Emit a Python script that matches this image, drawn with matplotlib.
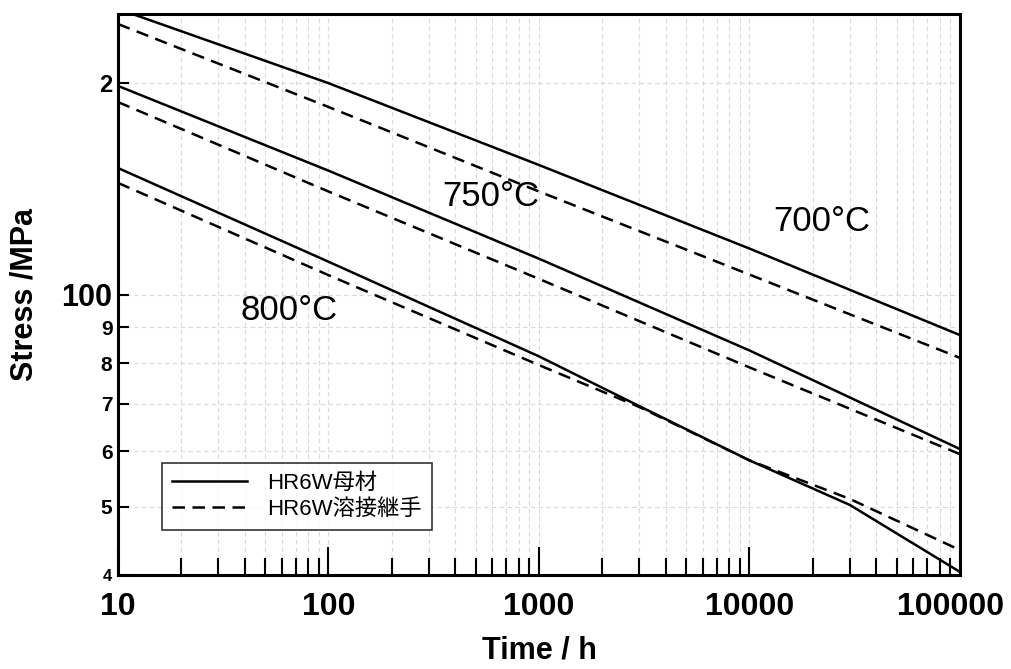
import matplotlib
matplotlib.use("Agg")
import matplotlib.pyplot as plt
from matplotlib.ticker import FixedLocator, NullFormatter
from matplotlib.transforms import ScaledTranslation

# Creep rupture strength of HR6W: base metal vs. welded joint
t_700 = [10, 100, 1000, 10000, 100000]
base_700 = [255.0, 200.0, 153.0, 116.4, 87.7]
weld_700 = [242.7, 185.0, 140.3, 106.9, 81.4]

t_750 = [10, 100, 1000, 10000, 100000]
base_750 = [198.2, 150.2, 112.6, 83.4, 60.4]
weld_750 = [188.0, 140.3, 105.4, 78.9, 59.4]

t_800 = [10, 100, 1000, 3000, 10000, 30000, 100000]
base_800 = [151.5, 111.5, 81.8, 69.5, 58.2, 50.3, 40.4]
weld_800 = [144.3, 106.7, 79.5, 69.3, 58.2, 51.3, 43.4]

temp_labels = ["700°C", "750°C", "800°C"]
temp_label_pos = [(22100, 127.0), (591, 137.8), (64.9, 95.2)]

legend_labels = ["HR6W母材", "HR6W溶接継手"]

x_major = [10, 100, 1000, 10000, 100000]
x_major_labels = ["10", "100", "1000", "10000", "100000"]
x_minor = [m * d for d in (10, 100, 1000, 10000) for m in range(2, 10)]

y_ticks = [40, 50, 60, 70, 80, 90, 100, 200]
y_tick_labels = ["4", "5", "6", "7", "8", "9", "100", "2"]
y_tick_sizes = [12, 15, 15, 15, 15, 15, 22, 17]

latin_cjk = ["Liberation Sans", "Noto Sans CJK JP", "DejaVu Sans"]
plt.rcParams["font.family"] = latin_cjk

fig = plt.figure(figsize=(10.12, 6.69), dpi=100)
ax = fig.add_axes([0.1166, 0.1405, 0.832, 0.8386])
ax.set_xscale("log")
ax.set_yscale("log")
ax.set_xlim(10, 100000)
ax.set_ylim(40, 250.8)

lw = 1.8
dash = (0, (5, 3))
ax.plot(t_700, base_700, color="black", lw=lw, label=legend_labels[0])
ax.plot(t_700, weld_700, color="black", lw=lw, linestyle=dash, label=legend_labels[1])
ax.plot(t_750, base_750, color="black", lw=lw)
ax.plot(t_750, weld_750, color="black", lw=lw, linestyle=dash)
ax.plot(t_800, base_800, color="black", lw=lw)
ax.plot(t_800, weld_800, color="black", lw=lw, linestyle=dash)

for txt, (tx, ty) in zip(temp_labels, temp_label_pos):
    ax.text(tx, ty, txt, fontsize=25, ha="center", va="center",
            family="Liberation Sans")

# grid on every tick position
for xv in x_major[1:-1] + x_minor:
    ax.axvline(xv, color="#d9d9d9", lw=0.8, linestyle=(0, (4, 3)), zorder=0)
for yv in y_ticks[1:]:
    ax.axhline(yv, color="#d9d9d9", lw=0.8, linestyle=(0, (4, 3)), zorder=0)

ax.xaxis.set_major_locator(FixedLocator(x_major))
ax.xaxis.set_minor_locator(FixedLocator(x_minor))
ax.set_xticklabels(x_major_labels, fontsize=23, fontweight="bold")
ax.xaxis.set_minor_formatter(NullFormatter())
ax.tick_params(axis="x", which="major", direction="in", length=20, width=1.5, pad=12)
ax.tick_params(axis="x", which="minor", direction="in", length=12, width=1.5)
# keep the rightmost label inside the figure
last = ax.get_xticklabels()[-1]
last.set_transform(last.get_transform() + ScaledTranslation(-0.09, 0, fig.dpi_scale_trans))

ax.yaxis.set_major_locator(FixedLocator(y_ticks))
ax.yaxis.set_minor_locator(FixedLocator([]))
ax.set_yticklabels(y_tick_labels, fontweight="bold")
for lab, sz in zip(ax.get_yticklabels(), y_tick_sizes):
    lab.set_fontsize(sz)
ax.tick_params(axis="y", which="major", direction="in", length=8, width=1.5, pad=4)

for sp in ax.spines.values():
    sp.set_linewidth(2.2)

ax.set_xlabel("Time / h", fontsize=22, fontweight="bold", labelpad=10)
ax.set_ylabel("Stress /MPa", fontsize=22, fontweight="bold", labelpad=16)

leg = ax.legend(loc="lower left", bbox_to_anchor=(0.052, 0.08),
                frameon=True, fancybox=False, edgecolor="black",
                handlelength=3.4, borderpad=0.45, labelspacing=0.25,
                handletextpad=0.9, borderaxespad=0,
                prop={"family": latin_cjk, "size": 16})
leg.get_frame().set_linewidth(1.2)

fig.savefig("out.png", dpi=100)
